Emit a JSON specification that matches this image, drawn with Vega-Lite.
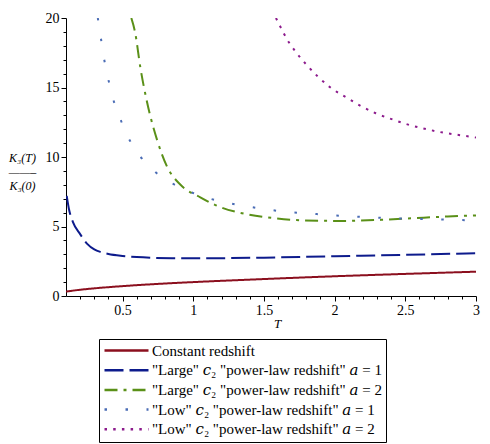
{
  "$schema": "https://vega.github.io/schema/vega-lite/v6.json",
  "width": 410,
  "height": 278,
  "autosize": {"type": "none"},
  "padding": {"left": 66, "top": 18, "right": 14, "bottom": 148},
  "background": "white",
  "config": {
    "view": {"stroke": null},
    "font": "Liberation Serif",
    "axis": {"domainColor": "black", "tickColor": "black", "labelColor": "black", "titleColor": "black", "grid": false, "labelFont": "Liberation Serif", "titleFont": "Liberation Serif", "labelFontSize": 14, "titleFontWeight": "normal"}
  },
  "data": {"values": [
    {"s": "S1", "T": 0.1, "K": 0.32},
    {"s": "S1", "T": 0.2, "K": 0.45},
    {"s": "S1", "T": 0.3, "K": 0.55},
    {"s": "S1", "T": 0.5, "K": 0.71},
    {"s": "S1", "T": 0.75, "K": 0.87},
    {"s": "S1", "T": 1.0, "K": 1.0},
    {"s": "S1", "T": 1.5, "K": 1.22},
    {"s": "S1", "T": 2.0, "K": 1.42},
    {"s": "S1", "T": 2.5, "K": 1.59},
    {"s": "S1", "T": 3.0, "K": 1.75},

    {"s": "S2", "T": 0.105, "K": 7.2},
    {"s": "S2", "T": 0.12, "K": 6.3},
    {"s": "S2", "T": 0.15, "K": 5.3},
    {"s": "S2", "T": 0.2, "K": 4.45},
    {"s": "S2", "T": 0.25, "K": 3.75},
    {"s": "S2", "T": 0.3, "K": 3.35},
    {"s": "S2", "T": 0.35, "K": 3.15},
    {"s": "S2", "T": 0.4, "K": 3.02},
    {"s": "S2", "T": 0.5, "K": 2.88},
    {"s": "S2", "T": 0.6, "K": 2.8},
    {"s": "S2", "T": 0.7, "K": 2.75},
    {"s": "S2", "T": 0.85, "K": 2.72},
    {"s": "S2", "T": 1.0, "K": 2.71},
    {"s": "S2", "T": 1.2, "K": 2.72},
    {"s": "S2", "T": 1.5, "K": 2.76},
    {"s": "S2", "T": 2.0, "K": 2.86},
    {"s": "S2", "T": 2.5, "K": 2.96},
    {"s": "S2", "T": 3.0, "K": 3.08},

    {"s": "S3", "T": 0.562, "K": 20.0},
    {"s": "S3", "T": 0.59, "K": 18.9},
    {"s": "S3", "T": 0.625, "K": 16.5},
    {"s": "S3", "T": 0.67, "K": 14.1},
    {"s": "S3", "T": 0.745, "K": 11.2},
    {"s": "S3", "T": 0.815, "K": 9.3},
    {"s": "S3", "T": 0.91, "K": 8.0},
    {"s": "S3", "T": 1.05, "K": 7.1},
    {"s": "S3", "T": 1.19, "K": 6.4},
    {"s": "S3", "T": 1.37, "K": 5.9},
    {"s": "S3", "T": 1.57, "K": 5.6},
    {"s": "S3", "T": 1.76, "K": 5.45},
    {"s": "S3", "T": 2.04, "K": 5.4},
    {"s": "S3", "T": 2.33, "K": 5.48},
    {"s": "S3", "T": 2.56, "K": 5.6},
    {"s": "S3", "T": 2.8, "K": 5.72},
    {"s": "S3", "T": 3.0, "K": 5.8},

    {"s": "S4", "T": 0.325, "K": 20.0},
    {"s": "S4", "T": 0.346, "K": 18.6},
    {"s": "S4", "T": 0.367, "K": 17.2},
    {"s": "S4", "T": 0.393, "K": 15.9},
    {"s": "S4", "T": 0.424, "K": 14.5},
    {"s": "S4", "T": 0.467, "K": 13.2},
    {"s": "S4", "T": 0.518, "K": 11.9},
    {"s": "S4", "T": 0.584, "K": 10.6},
    {"s": "S4", "T": 0.674, "K": 9.5},
    {"s": "S4", "T": 0.783, "K": 8.5},
    {"s": "S4", "T": 0.913, "K": 7.8},
    {"s": "S4", "T": 1.052, "K": 7.2},
    {"s": "S4", "T": 1.2, "K": 6.8},
    {"s": "S4", "T": 1.35, "K": 6.5},
    {"s": "S4", "T": 1.5, "K": 6.26},
    {"s": "S4", "T": 1.65, "K": 6.06},
    {"s": "S4", "T": 1.8, "K": 5.95},
    {"s": "S4", "T": 1.96, "K": 5.83},
    {"s": "S4", "T": 2.11, "K": 5.73},
    {"s": "S4", "T": 2.26, "K": 5.66},
    {"s": "S4", "T": 2.41, "K": 5.59},
    {"s": "S4", "T": 2.565, "K": 5.55},
    {"s": "S4", "T": 2.72, "K": 5.51},
    {"s": "S4", "T": 2.87, "K": 5.47},
    {"s": "S4", "T": 3.0, "K": 5.44},

    {"s": "S5", "T": 1.585, "K": 20.0},
    {"s": "S5", "T": 1.61, "K": 19.5},
    {"s": "S5", "T": 1.64, "K": 18.9},
    {"s": "S5", "T": 1.68, "K": 18.2},
    {"s": "S5", "T": 1.73, "K": 17.5},
    {"s": "S5", "T": 1.8, "K": 16.65},
    {"s": "S5", "T": 1.88, "K": 15.8},
    {"s": "S5", "T": 1.97, "K": 15.0},
    {"s": "S5", "T": 2.08, "K": 14.3},
    {"s": "S5", "T": 2.18, "K": 13.7},
    {"s": "S5", "T": 2.29, "K": 13.15},
    {"s": "S5", "T": 2.41, "K": 12.7},
    {"s": "S5", "T": 2.53, "K": 12.3},
    {"s": "S5", "T": 2.65, "K": 12.0},
    {"s": "S5", "T": 2.77, "K": 11.75},
    {"s": "S5", "T": 2.9, "K": 11.55},
    {"s": "S5", "T": 3.0, "K": 11.4}
  ]},
  "resolve": {"axis": {"x": "independent", "y": "independent"}},
  "layer": [
    {
      "mark": {"type": "line", "clip": true, "strokeWidth": 2, "interpolate": "monotone"},
      "encoding": {
        "x": {"field": "T", "type": "quantitative", "scale": {"domain": [0.1, 3], "nice": false, "zero": false},
          "axis": {"orient": "bottom", "values": [0.5, 1, 1.5, 2, 2.5, 3], "format": "~g", "tickSize": 5, "labelPadding": 2, "labelFlush": false,
            "labelFont": "Liberation Serif", "labelFontSize": 14,
            "title": "T", "titleFont": "Liberation Serif", "titleFontStyle": "italic", "titleFontSize": 13, "titlePadding": 0, "titleX": 211}},
        "y": {"field": "K", "type": "quantitative", "scale": {"domain": [0, 20], "nice": false},
          "axis": {"orient": "left", "values": [0, 5, 10, 15, 20], "tickSize": 5, "labelPadding": 2,
            "labelFont": "Liberation Serif", "labelFontSize": 14,
            "title": ["K₃(T)", "——–", "K₃(0)"], "titleFont": "Liberation Serif", "titleFontStyle": "italic", "titleAngle": 0, "titleX": -44, "titleY": 139, "titleAlign": "center", "titleBaseline": "middle", "titleFontSize": 12, "titleLineHeight": 14}},
        "color": {"field": "s", "type": "nominal",
          "scale": {"domain": ["S1", "S2", "S3", "S4", "S5"], "range": ["#8B0F1E", "#0D1B8C", "#5A9018", "#4A6CB5", "#8C1A8C"]},
          "legend": {"orient": "none", "legendX": 33, "legendY": 321, "direction": "vertical", "title": null,
            "strokeColor": "black", "fillColor": "white", "padding": 4, "cornerRadius": 0,
            "symbolType": "stroke", "symbolSize": 1936, "symbolStrokeWidth": 2.5, "clipHeight": 15, "rowPadding": 3.7,
            "labelFont": "Liberation Serif, DejaVu Serif", "labelFontSize": 15, "labelColor": "black", "labelOffset": 2, "labelLimit": 0,
            "labelExpr": "datum.label == 'S1' ? 'Constant redshift' : datum.label == 'S2' ? '\"Large\" 𝑐₂ \"power-law redshift\" 𝑎 = 1' : datum.label == 'S3' ? '\"Large\" 𝑐₂ \"power-law redshift\" 𝑎 = 2' : datum.label == 'S4' ? '\"Low\" 𝑐₂ \"power-law redshift\" 𝑎 = 1' : '\"Low\" 𝑐₂ \"power-law redshift\" 𝑎 = 2'"}},
        "strokeDash": {"field": "s", "type": "nominal",
          "scale": {"domain": ["S1", "S2", "S3", "S4", "S5"], "range": [[1, 0], [19, 6], [13, 6, 3, 6], [2.5, 18.5], [2.5, 6.2]]},
          "legend": null}
      }
    },
    {
      "mark": {"type": "point", "opacity": 0},
      "encoding": {
        "x": {"field": "T", "type": "quantitative", "scale": {"domain": [0.1, 3], "nice": false, "zero": false},
          "axis": {"orient": "bottom", "values": [0.2, 0.3, 0.4, 0.6, 0.7, 0.8, 0.9, 1.1, 1.2, 1.3, 1.4, 1.6, 1.7, 1.8, 1.9, 2.1, 2.2, 2.3, 2.4, 2.6, 2.7, 2.8, 2.9], "labels": false, "domain": false, "tickSize": 3, "title": null}},
        "y": {"field": "K", "type": "quantitative", "scale": {"domain": [0, 20], "nice": false},
          "axis": {"orient": "left", "values": [1, 2, 3, 4, 6, 7, 8, 9, 11, 12, 13, 14, 16, 17, 18, 19], "labels": false, "domain": false, "tickSize": 3, "title": null}}
      }
    }
  ]
}
